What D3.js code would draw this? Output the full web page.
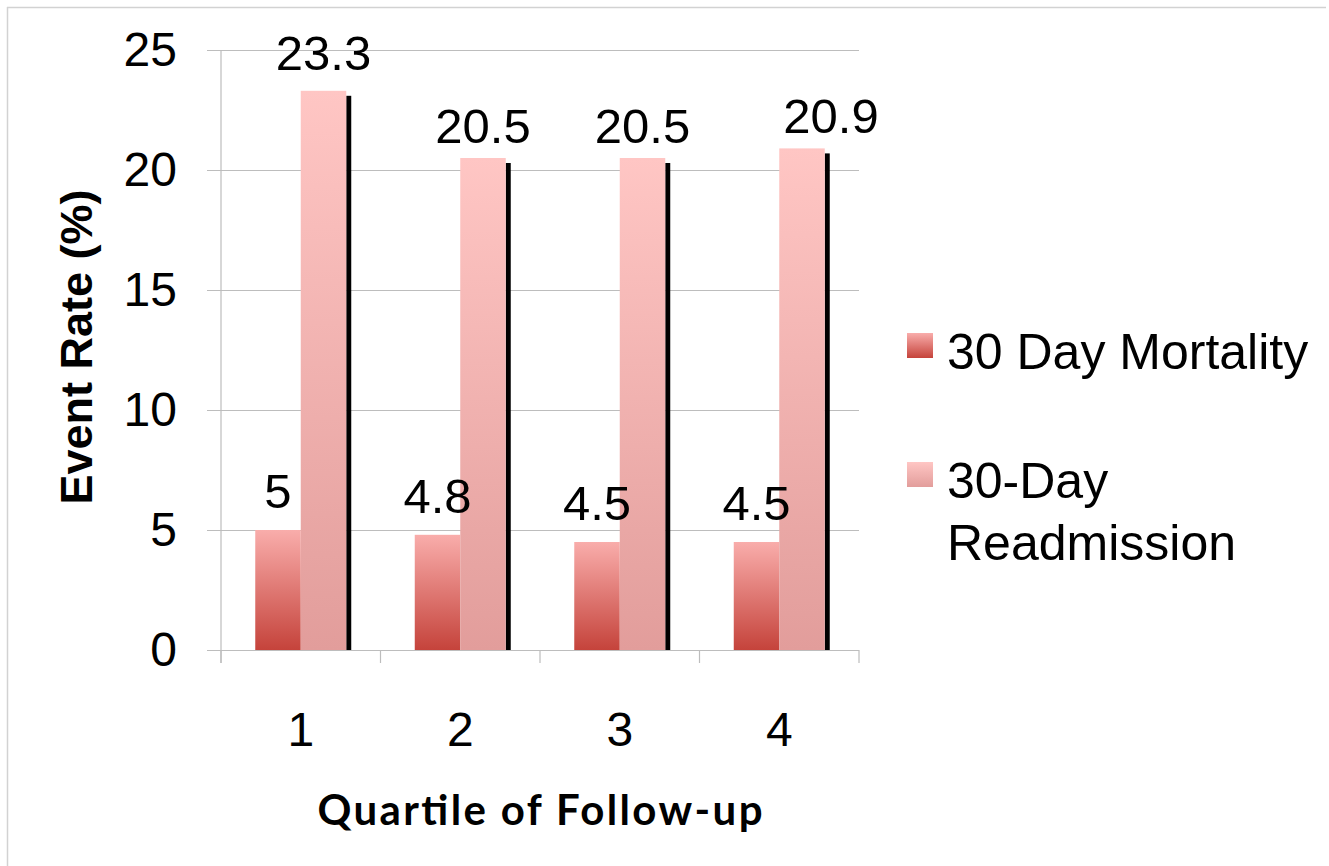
<!DOCTYPE html>
<html>
<head>
<meta charset="utf-8">
<script src="https://cdn.jsdelivr.net/npm/d3@7"></script>
<style>
  html, body { margin: 0; padding: 0; background: #fff; }
  svg { display: block; }
</style>
</head>
<body>
<svg id="chart" width="1329" height="866"></svg>
<script>
// Event rates by quartile of follow-up
const categories = ["1", "2", "3", "4"];
const seriesNames = ["30 Day Mortality", "30-Day Readmission"];
const mortality = [5, 4.8, 4.5, 4.5];
const readmission = [23.3, 20.5, 20.5, 20.9];
const yTicks = [0, 5, 10, 15, 20, 25];
const yTitle = "Event Rate (%)";
const xTitle = "Quartile of Follow-up";

const rows = categories.map((c, i) => ({ cat: c, values: [mortality[i], readmission[i]] }));

const svg = d3.select("#chart");
const plot = { left: 221, right: 859, top: 50, bottom: 650 };
const W = plot.right - plot.left, H = plot.bottom - plot.top;
const FONT = "'Liberation Sans', Arial, sans-serif";

// Frame lines along the top and left edges
svg.append("line").attr("x1", 7).attr("x2", 1326).attr("y1", 7.5).attr("y2", 7.5)
  .attr("stroke", "#d2d2d2").attr("stroke-width", 1.5);
svg.append("line").attr("x1", 7.5).attr("x2", 7.5).attr("y1", 7).attr("y2", 866)
  .attr("stroke", "#d2d2d2").attr("stroke-width", 1.5);

// Gradients
const defs = svg.append("defs");
const grads = [
  { id: "gMort", top: "#f9adab", bottom: "#c5433b" },
  { id: "gRead", top: "#ffc6c4", bottom: "#e29d9b" }
];
grads.forEach(g => {
  const lg = defs.append("linearGradient").attr("id", g.id)
    .attr("x1", 0).attr("y1", 0).attr("x2", 0).attr("y2", 1);
  lg.append("stop").attr("offset", "0%").attr("stop-color", g.top);
  lg.append("stop").attr("offset", "100%").attr("stop-color", g.bottom);
});
const fills = ["url(#gMort)", "url(#gRead)"];

// Scales
const y = d3.scaleLinear().domain([0, 25]).range([plot.bottom, plot.top]);
const x0 = d3.scaleBand().domain(categories).range([plot.left, plot.right])
  .paddingInner(0.4295).paddingOuter(0.21475);
const x1 = d3.scaleBand().domain(seriesNames).range([0, x0.bandwidth()]);

const g = svg.append("g");

// Y axis with gridlines
const yAxis = d3.axisLeft(y).tickValues(yTicks).tickSizeInner(-W).tickSizeOuter(0).tickPadding(44);
const ya = g.append("g").attr("transform", `translate(${plot.left},0)`).call(yAxis);
ya.select(".domain").remove();
ya.selectAll(".tick line").attr("x1", -14).attr("x2", W).attr("stroke", "#bdbdbd").attr("stroke-width", 1.2);
ya.selectAll(".tick text").attr("font-family", FONT).attr("font-size", 48).attr("fill", "#000");

// Vertical axis line
g.append("line").attr("x1", plot.left).attr("x2", plot.left)
  .attr("y1", plot.top).attr("y2", plot.bottom + 13)
  .attr("stroke", "#bdbdbd").attr("stroke-width", 1.2);

// X axis: labels at band centres, ticks at band boundaries
const xAxis = d3.axisBottom(x0).tickSize(0).tickPadding(62);
const xa = g.append("g").attr("transform", `translate(0,${plot.bottom})`).call(xAxis);
xa.select(".domain").remove();
xa.selectAll(".tick text").attr("font-family", FONT).attr("font-size", 48).attr("fill", "#000");
const step = x0.step();
d3.range(categories.length + 1).forEach(i => {
  const bx = plot.left + i * step;
  g.append("line").attr("x1", bx).attr("x2", bx).attr("y1", plot.bottom).attr("y2", plot.bottom + 13)
    .attr("stroke", "#bdbdbd").attr("stroke-width", 1.2);
});

// Bars
const groups = g.selectAll(".grp").data(rows).enter().append("g")
  .attr("transform", d => `translate(${x0(d.cat)},0)`);

// Dark edge on the right side of the readmission bars
groups.append("rect")
  .attr("x", x1(seriesNames[1]) + x1.bandwidth())
  .attr("y", d => y(d.values[1]) + 5)
  .attr("width", 5)
  .attr("height", d => plot.bottom - y(d.values[1]) - 5)
  .attr("fill", "#000");

groups.selectAll(".bar").data(d => d.values.map((v, k) => ({ v, k }))).enter().append("rect")
  .attr("x", d => x1(seriesNames[d.k]))
  .attr("y", d => y(d.v))
  .attr("width", x1.bandwidth())
  .attr("height", d => plot.bottom - y(d.v))
  .attr("fill", d => fills[d.k]);

// Value labels
const labelLift = [22, 15];
groups.selectAll(".lbl").data((d, i) => d.values.map((v, k) => ({ v, k, i }))).enter().append("text")
  .attr("x", d => x1(seriesNames[d.k]) + x1.bandwidth() / 2 + (d.k === 1 && d.i === 3 ? 29 : 0))
  .attr("y", d => y(d.v) - (d.k === 1 && d.i === 0 ? 21 : labelLift[d.k]))
  .attr("text-anchor", "middle")
  .attr("font-family", FONT).attr("font-size", 49).attr("fill", "#000")
  .text(d => d3.format("")(d.v));

// Axis titles
svg.append("text")
  .attr("transform", `translate(92,${(plot.top + plot.bottom) / 2 - 3}) rotate(-90)`)
  .attr("text-anchor", "middle")
  .attr("font-family", FONT).attr("font-weight", "bold").attr("font-size", 45).attr("fill", "#000")
  .text(yTitle);

svg.append("text")
  .attr("x", (plot.left + plot.right) / 2).attr("y", 825)
  .attr("text-anchor", "middle")
  .attr("font-family", "Lato, 'Open Sans', sans-serif").attr("font-weight", "bold").attr("font-size", 42)
  .attr("textLength", 445).attr("lengthAdjust", "spacing")
  .attr("fill", "#000")
  .text(xTitle);

// Legend
const legend = svg.append("g").attr("transform", "translate(907,333)");
const legendLines = [["30 Day Mortality"], ["30-Day", "Readmission"]];
const legendTop = [0, 129];
seriesNames.forEach((s, k) => {
  const lg = legend.append("g").attr("transform", `translate(0,${legendTop[k]})`);
  lg.append("rect").attr("width", 26).attr("height", 25).attr("fill", fills[k]);
  const t = lg.append("text").attr("x", 40).attr("y", 36)
    .attr("font-family", FONT).attr("font-size", 50).attr("fill", "#000");
  legendLines[k].forEach((line, j) => {
    t.append("tspan").attr("x", 40).attr("dy", j === 0 ? 0 : 62).text(line);
  });
});
</script>
</body>
</html>
